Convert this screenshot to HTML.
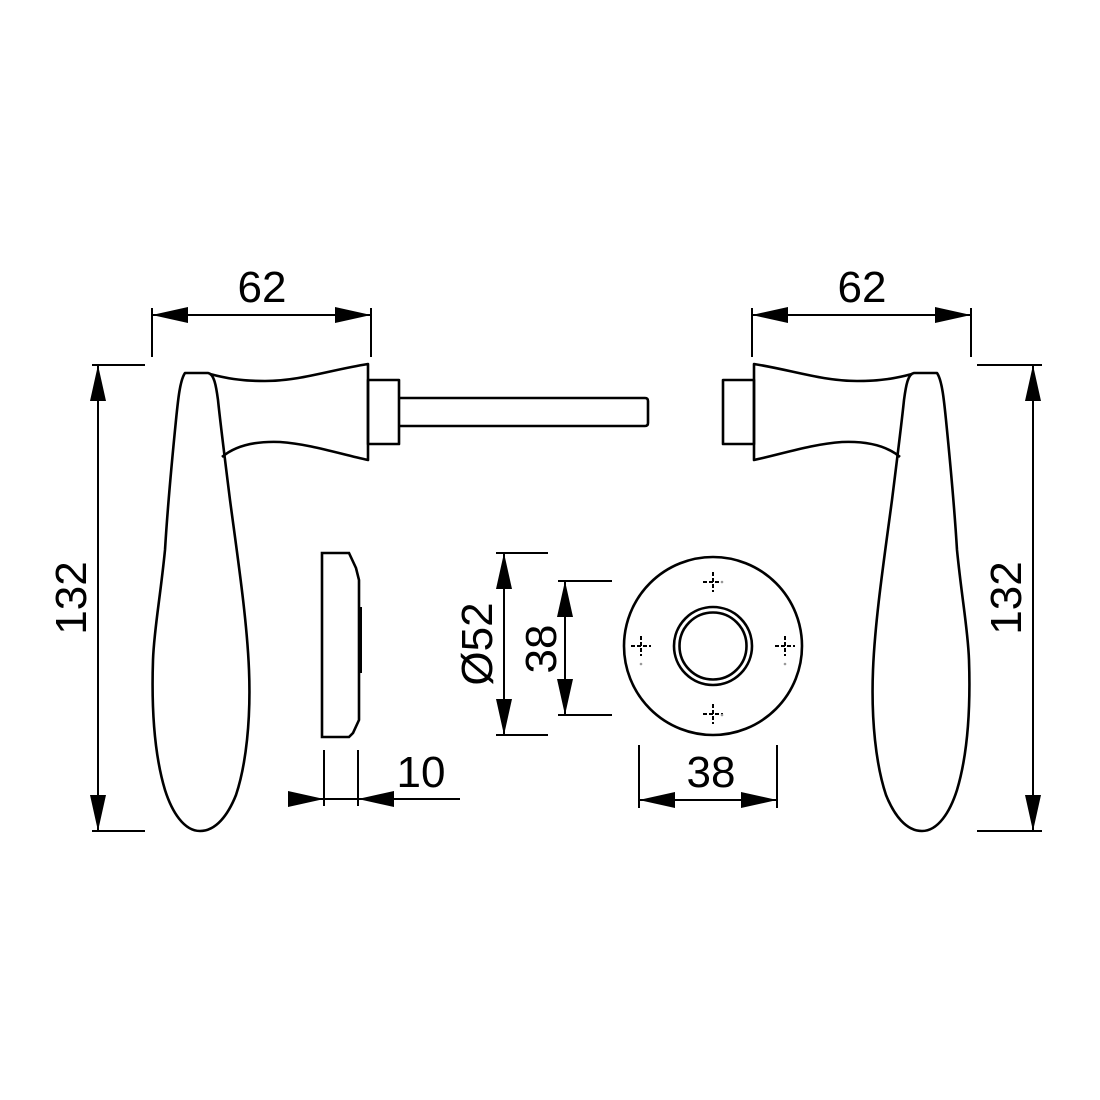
<!DOCTYPE html>
<html><head><style>html,body{margin:0;padding:0;background:#fff;}svg{display:block}</style></head>
<body>
<svg width="1100" height="1100" viewBox="0 0 1100 1100" xmlns="http://www.w3.org/2000/svg">
<defs>
<g id="handle" fill="none" stroke="#000" stroke-width="2.6" stroke-linejoin="round">
  <path d="M185,373 L208,373 C214,374 216,385 218,400 C220,420 225,460 230,500 C238,560 247,620 249,670 C251,720 246,765 236,795 C228,815 216,831 200,831 C184,831 172,812 165,790 C156,760 151,720 153,660 C154,630 160,600 165,550 C168,500 172,460 176,420 C178,400 180,380 185,373 Z"/>
  <path d="M210,374 C225,378 240,381 265,381 C300,381 330,370 368,364 L368,460 C340,454 310,444 280,442 C255,441 235,446 222,457"/>
  <rect x="368" y="380" width="31" height="64"/>
</g>
</defs>
<use href="#handle"/>
<use href="#handle" transform="translate(1122,0) scale(-1,1)"/>
<g fill="none" stroke="#000" stroke-width="2.6">
  <path d="M399,398 L645,398 Q648,398 648,401 L648,423 Q648,426 645,426 L399,426"/>
  <path d="M322,553 L349,553 L356,568 L359,580 L359,720 L353,733 L349,737 L322,737 Z"/>
  <path d="M359,608 L361,608 L361,672 L359,672" stroke-width="2"/>
  <circle cx="713" cy="646" r="89"/>
  <circle cx="713" cy="646" r="39"/>
  <circle cx="713" cy="646" r="33.5"/>
</g>
<g stroke="#000" stroke-width="2" stroke-dasharray="4,2" fill="none">
  <path d="M703,582 L723,582 M713,572 L713,592"/>
  <path d="M703,714 L723,714 M713,704 L713,724"/>
  <path d="M631,646 L651,646 M641,636 L641,656"/>
  <path d="M775,646 L795,646 M785,636 L785,656"/>
</g>
<g fill="#999"><circle cx="722" cy="582" r="1.3"/><circle cx="722" cy="715" r="1.3"/><circle cx="641" cy="664" r="1.3"/><circle cx="785" cy="664" r="1.3"/></g>
<g stroke="#000" stroke-width="2" fill="none">
  <path d="M152,308 L152,357 M371,308 L371,357 M152,315 L371,315"/>
  <path d="M752,308 L752,357 M971,308 L971,357 M752,315 L971,315"/>
  <path d="M92,365 L145,365 M92,831 L145,831 M98,365 L98,831"/>
  <path d="M977,365 L1042,365 M977,831 L1042,831 M1033,365 L1033,831"/>
  <path d="M324,750 L324,806 M358,750 L358,806 M288,799 L460,799"/>
  <path d="M496,553 L548,553 M496,735 L548,735 M504,553 L504,735"/>
  <path d="M558,581 L612,581 M558,715 L612,715 M565,581 L565,715"/>
  <path d="M639,745 L639,808 M777,745 L777,808 M639,800 L777,800"/>
</g>
<g fill="#000">
  <path d="M152,315 L188,307 L188,323 Z M371,315 L335,307 L335,323 Z"/>
  <path d="M752,315 L788,307 L788,323 Z M971,315 L935,307 L935,323 Z"/>
  <path d="M98,365 L90,401 L106,401 Z M98,831 L90,795 L106,795 Z"/>
  <path d="M1033,365 L1025,401 L1041,401 Z M1033,831 L1025,795 L1041,795 Z"/>
  <path d="M324,799 L288,791 L288,807 Z M358,799 L394,791 L394,807 Z"/>
  <path d="M504,553 L496,589 L512,589 Z M504,735 L496,699 L512,699 Z"/>
  <path d="M565,581 L557,617 L573,617 Z M565,715 L557,679 L573,679 Z"/>
  <path d="M639,800 L675,792 L675,808 Z M777,800 L741,792 L741,808 Z"/>
</g>
<g font-family="Liberation Sans, sans-serif" font-size="44" fill="#000" text-anchor="middle">
  <text x="262" y="302">62</text>
  <text x="862" y="302">62</text>
  <text transform="translate(86,598) rotate(-90)">132</text>
  <text transform="translate(1021,598) rotate(-90)">132</text>
  <text x="421" y="787">10</text>
  <text x="711" y="787">38</text>
  <text transform="translate(492,644) rotate(-90)">Ø52</text>
  <text transform="translate(556,649) rotate(-90)">38</text>
</g>
</svg>
</body></html>
